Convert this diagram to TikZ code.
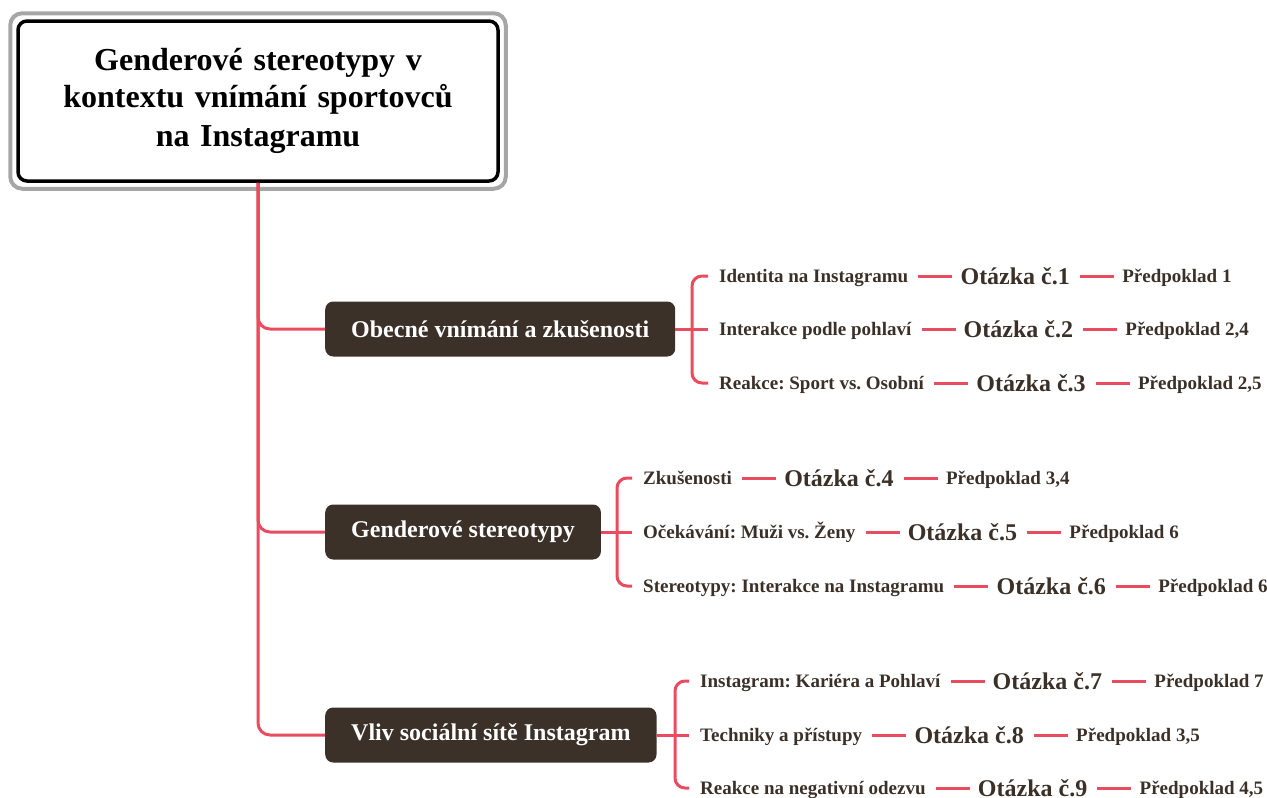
\documentclass[tikz,border=0pt]{standalone}
\usepackage{fontspec}
\setmainfont{Liberation Serif}
\frenchspacing
\usetikzlibrary{positioning}
\definecolor{linkred}{RGB}{233,75,95}
\definecolor{boxbrown}{RGB}{59,49,41}
\definecolor{inkbrown}{RGB}{58,48,40}

\begin{document}
\begin{tikzpicture}[x=1pt, y=-1pt, node distance=52pt,
    link/.style={draw=linkred, line width=3pt},
    rootbox/.style={draw=black, line width=3.5pt, fill=white, rounded corners=9pt, minimum width=480pt, minimum height=160pt, text width=440pt, align=center, font=\fontsize{32}{39}\selectfont\bfseries},
    topic/.style={fill=boxbrown, text=white, rounded corners=8pt, inner xsep=26pt, minimum height=55pt, anchor=west, font=\fontsize{24}{28}\selectfont\bfseries},
    sub/.style={inner sep=0pt, anchor=west, text=inkbrown, text height=17pt, text depth=4pt, font=\fontsize{19}{22}\selectfont\bfseries},
    ques/.style={sub, text height=22pt, text depth=6pt, font=\fontsize{24}{28}\selectfont\bfseries},
    hyp/.style={sub}]
      \useasboundingbox (0,0) rectangle (1267,798);

      % root
      \node[rootbox] (root) at (258,101) {\raisebox{-2pt}{Genderové stereotypy v}\\kontextu vnímání sportovců\\na Instagramu};
      \draw[draw=black!35, line width=4pt, rounded corners=12pt] ([shift={(-6pt,6pt)}]root.north west) rectangle ([shift={(6pt,-6pt)}]root.south east);

      % topics
      \node[topic] (top0) at (325,329) {Obecné vnímání a zkušenosti};
      \node[topic] (top1) at (325,532) {Genderové stereotypy};
      \node[topic] (top2) at (325,735) {Vliv sociální sítě Instagram};
      \draw[link, rounded corners=12pt] (root.south) |- (top0.west);
      \draw[link, rounded corners=12pt] (root.south) |- (top1.west);
      \draw[link, rounded corners=12pt] (root.south) |- (top2.west);

      % topic 0
      \node[sub] (sub0) at (719,276) {Identita na Instagramu};
      \node[ques, right=of sub0] (q1) {Otázka č.1};
      \node[hyp, right=of q1] (h1) {Předpoklad 1};
      \node[sub] (sub1) at (719,329) {Interakce podle pohlaví};
      \node[ques, right=of sub1] (q2) {Otázka č.2};
      \node[hyp, right=of q2] (h2) {Předpoklad 2,4};
      \node[sub] (sub2) at (719,383) {Reakce: Sport vs. Osobní};
      \node[ques, right=of sub2] (q3) {Otázka č.3};
      \node[hyp, right=of q3] (h3) {Předpoklad 2,5};
      \coordinate (fork0) at (692,329);
      \draw[link] (top0.east) -- (fork0);
      \draw[link, rounded corners=10pt, shorten >=11pt] (fork0) |- (sub0.west);
      \draw[link, shorten >=11pt] (fork0) -- (sub1.west);
      \draw[link, rounded corners=10pt, shorten >=11pt] (fork0) |- (sub2.west);

      % topic 1
      \node[sub] (sub3) at (643,478) {Zkušenosti};
      \node[ques, right=of sub3] (q4) {Otázka č.4};
      \node[hyp, right=of q4] (h4) {Předpoklad 3,4};
      \node[sub] (sub4) at (643,532) {Očekávání: Muži vs. Ženy};
      \node[ques, right=of sub4] (q5) {Otázka č.5};
      \node[hyp, right=of q5] (h5) {Předpoklad 6};
      \node[sub] (sub5) at (643,586) {Stereotypy: Interakce na Instagramu};
      \node[ques, right=of sub5] (q6) {Otázka č.6};
      \node[hyp, right=of q6] (h6) {Předpoklad 6};
      \coordinate (fork1) at (617,532);
      \draw[link] (top1.east) -- (fork1);
      \draw[link, rounded corners=10pt, shorten >=11pt] (fork1) |- (sub3.west);
      \draw[link, shorten >=11pt] (fork1) -- (sub4.west);
      \draw[link, rounded corners=10pt, shorten >=11pt] (fork1) |- (sub5.west);

      % topic 2
      \node[sub] (sub6) at (700,681) {Instagram: Kariéra a Pohlaví};
      \node[ques, right=of sub6] (q7) {Otázka č.7};
      \node[hyp, right=of q7] (h7) {Předpoklad 7};
      \node[sub] (sub7) at (700,735) {Techniky a přístupy};
      \node[ques, right=of sub7] (q8) {Otázka č.8};
      \node[hyp, right=of q8] (h8) {Předpoklad 3,5};
      \node[sub] (sub8) at (700,788) {Reakce na negativní odezvu};
      \node[ques, right=of sub8] (q9) {Otázka č.9};
      \node[hyp, right=of q9] (h9) {Předpoklad 4,5};
      \coordinate (fork2) at (675,735);
      \draw[link] (top2.east) -- (fork2);
      \draw[link, rounded corners=10pt, shorten >=11pt] (fork2) |- (sub6.west);
      \draw[link, shorten >=11pt] (fork2) -- (sub7.west);
      \draw[link, rounded corners=10pt, shorten >=11pt] (fork2) |- (sub8.west);

      % question links
      \draw[link, shorten <=10pt, shorten >=8pt] (sub0) -- (q1);
      \draw[link, shorten <=10pt, shorten >=8pt] (q1) -- (h1);
      \draw[link, shorten <=10pt, shorten >=8pt] (sub1) -- (q2);
      \draw[link, shorten <=10pt, shorten >=8pt] (q2) -- (h2);
      \draw[link, shorten <=10pt, shorten >=8pt] (sub2) -- (q3);
      \draw[link, shorten <=10pt, shorten >=8pt] (q3) -- (h3);
      \draw[link, shorten <=10pt, shorten >=8pt] (sub3) -- (q4);
      \draw[link, shorten <=10pt, shorten >=8pt] (q4) -- (h4);
      \draw[link, shorten <=10pt, shorten >=8pt] (sub4) -- (q5);
      \draw[link, shorten <=10pt, shorten >=8pt] (q5) -- (h5);
      \draw[link, shorten <=10pt, shorten >=8pt] (sub5) -- (q6);
      \draw[link, shorten <=10pt, shorten >=8pt] (q6) -- (h6);
      \draw[link, shorten <=10pt, shorten >=8pt] (sub6) -- (q7);
      \draw[link, shorten <=10pt, shorten >=8pt] (q7) -- (h7);
      \draw[link, shorten <=10pt, shorten >=8pt] (sub7) -- (q8);
      \draw[link, shorten <=10pt, shorten >=8pt] (q8) -- (h8);
      \draw[link, shorten <=10pt, shorten >=8pt] (sub8) -- (q9);
      \draw[link, shorten <=10pt, shorten >=8pt] (q9) -- (h9);

    \end{tikzpicture}
\end{document}
